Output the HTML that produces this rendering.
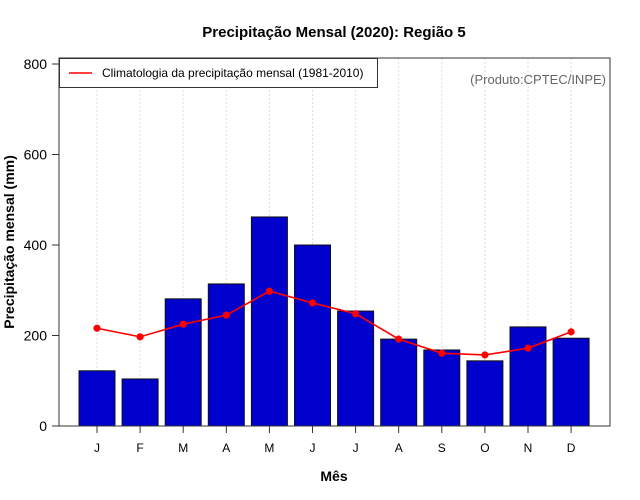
<!DOCTYPE html>
<html><head><meta charset="utf-8"><style>
body{margin:0;background:#fff}
svg{display:block;font-family:"Liberation Sans",sans-serif}
</style></head><body>
<svg id="chart" width="640" height="500" viewBox="0 0 640 500">
<text x="334" y="37" text-anchor="middle" font-size="15" font-weight="bold">Precipitação Mensal (2020): Região 5</text>
<text x="334" y="481" text-anchor="middle" font-size="14" font-weight="bold">Mês</text>
<text transform="translate(14,242) rotate(-90)" text-anchor="middle" font-size="14" font-weight="bold">Precipitação mensal (mm)</text>
<g id="grid"></g><g id="bars"></g><g id="line"></g><g id="axes"></g>
<rect x="59" y="58" width="551" height="368" fill="none" stroke="#333" stroke-width="1"/>
<g>
<rect x="59.5" y="58.5" width="318" height="29" fill="#fff" stroke="#333"/>
<line x1="69" y1="73" x2="92" y2="73" stroke="red" stroke-width="1.5"/>
<text x="102" y="77" font-size="12">Climatologia da precipitação mensal (1981-2010)</text>
</g>
<text x="606" y="84" text-anchor="end" font-size="13" fill="#666">(Produto:CPTEC/INPE)</text>
</svg>
<script>
const months = ["J","F","M","A","M","J","J","A","S","O","N","D"];
const precip2020 = [122,104,281,314,462,400,254,192,168,144,219,194];
const climatology = [216,197,225,245,298,272,248,192,161,157,172,208];
const yTicks = [0,200,400,600,800];
const NS="http://www.w3.org/2000/svg";
function xPos(i){return 97+i*43.1;}
function yPos(v){return 426-v*0.4525;}
function mk(tag,attrs,parent){const e=document.createElementNS(NS,tag);for(const k in attrs)e.setAttribute(k,attrs[k]);document.getElementById(parent).appendChild(e);return e;}
months.forEach((m,i)=>{
  const g=mk("line",{x1:xPos(i),x2:xPos(i),y1:58,y2:426,stroke:"#ddd","stroke-dasharray":"2,2"},"grid");
  
  
  const b=mk("rect",{x:xPos(i)-18,y:yPos(precip2020[i]),width:36,height:426-yPos(precip2020[i]),fill:"#0000CD",stroke:"#111","stroke-width":1},"bars");
  
  
  const t=mk("line",{x1:xPos(i),x2:xPos(i),y1:426,y2:433,stroke:"#333"},"axes");
  
  
  const l=mk("text",{x:xPos(i),y:452,"text-anchor":"middle","font-size":12},"axes");
  l.textContent=m;
  
  
});
const pl=mk("polyline",{points:climatology.map((v,i)=>xPos(i)+","+yPos(v)).join(" "),fill:"none",stroke:"red","stroke-width":1.6},"line");


climatology.forEach((v,i)=>{
  const c=mk("circle",{cx:xPos(i),cy:yPos(v),r:3.6,fill:"red"},"line");
  
  
});
yTicks.forEach(v=>{
  const t=mk("line",{x1:52,x2:59,y1:yPos(v),y2:yPos(v),stroke:"#333"},"axes");
  
  
  const l=mk("text",{x:47,y:yPos(v)+5,"text-anchor":"end","font-size":14},"axes");
  l.textContent=v;
  
  
});
</script>
</body></html>
